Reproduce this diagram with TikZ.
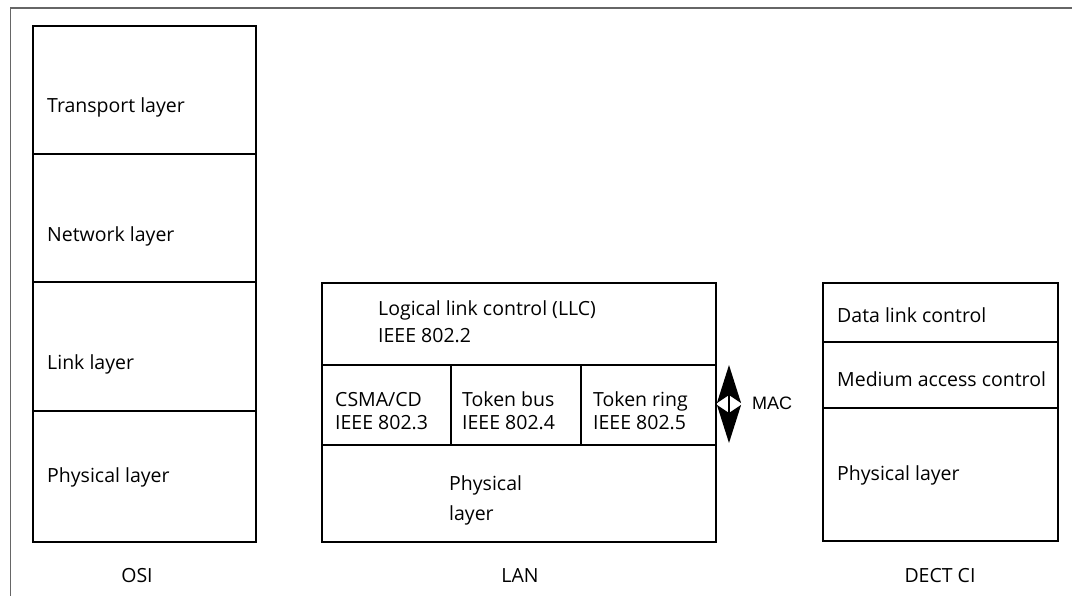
\documentclass[tikz,border=0pt]{standalone}
\usepackage{fontspec}
\setmainfont{Open Sans}
\newfontfamily\macfont{Liberation Sans}
\usetikzlibrary{arrows.meta}

\tikzset{
  cell/.style={draw=black, line width=2.8pt, anchor=north west,
               inner sep=0pt, outer sep=0pt},
  lbl/.style={anchor=west, inner sep=0pt, align=left,
              font=\fontsize{19.5}{27}\selectfont},
  caption/.style={inner sep=0pt, font=\fontsize{19.5}{22}\selectfont},
  frameline/.style={draw=black!60, line width=1.2pt},
  macarrow/.style={line width=2pt,
    {Stealth[length=38pt,width=24pt,inset=8pt]}-{Stealth[length=38pt,width=24pt,inset=8pt]}},
}

\begin{document}
\begin{tikzpicture}[x=1pt,y=-1pt]
\useasboundingbox (0,0) rectangle (1072,596);

% outer frame (top and left edges only)
\coordinate (fbl) at (10.5,596);
\coordinate (ftl) at (10.5,8);
\coordinate (ftr) at (1072,8);
\draw[frameline] (fbl) -- (ftl) -- (ftr);

% ---------------- OSI stack ----------------
\node[cell, minimum width=223pt, minimum height=128pt] (osiT) at (33,26) {};
\node[cell, minimum width=223pt, minimum height=128pt] (osiN) at (33,154) {};
\node[cell, minimum width=223pt, minimum height=129pt] (osiL) at (33,282) {};
\node[cell, minimum width=223pt, minimum height=131pt] (osiP) at (33,411) {};
\node[lbl] (tT) at (47,107) {Transport layer};
\node[lbl] (tN) at (47,236) {Network layer};
\node[lbl] (tL) at (47,364) {Link layer};
\node[lbl] (tP) at (47,477) {Physical layer};
\node[caption] (capOSI) at (137,576) {OSI};

% ---------------- LAN stack ----------------
\node[cell, minimum width=394pt, minimum height=82pt] (llc) at (322,283) {};
\node[cell, minimum width=129pt, minimum height=80pt] (csma) at (322,365) {};
\node[cell, minimum width=130pt, minimum height=80pt] (tbus) at (451,365) {};
\node[cell, minimum width=135pt, minimum height=80pt] (tring) at (581,365) {};
\node[cell, minimum width=394pt, minimum height=97pt] (lphy) at (322,445) {};
\node[lbl] (tLLC) at (378,322) {Logical link control (LLC)\\IEEE 802.2};
\node[lbl, font=\fontsize{19.5}{23}\selectfont] (tCS) at (335,411) {CSMA/CD\\IEEE 802.3};
\node[lbl, font=\fontsize{19.5}{23}\selectfont] (tTB) at (462,411) {Token bus\\IEEE 802.4};
\node[lbl, font=\fontsize{19.5}{23}\selectfont] (tTR) at (593,411) {Token ring\\IEEE 802.5};
\node[lbl, font=\fontsize{19.5}{30}\selectfont] (tLP) at (449,500) {Physical\\layer};
\node[caption] (capLAN) at (520,576) {LAN};

% MAC span marker
\coordinate (macT) at (729,365);
\coordinate (macB) at (729,443);
\draw[macarrow] (macT) -- (macB);
\node[anchor=west, inner sep=0pt, font=\macfont\fontsize{18}{20}\selectfont] (tMAC) at (752,403) {MAC};

% ---------------- DECT CI stack ----------------
\node[cell, minimum width=235pt, minimum height=59pt] (dlc) at (823,283) {};
\node[cell, minimum width=235pt, minimum height=66pt] (mac) at (823,342) {};
\node[cell, minimum width=235pt, minimum height=133pt] (dphy) at (823,408) {};
\node[lbl] (tDLC) at (837,315) {Data link control};
\node[lbl] (tMACd) at (837,379) {Medium access control};
\node[lbl] (tDP) at (837,475) {Physical layer};
\node[caption] (capDECT) at (940,576) {DECT CI};

\end{tikzpicture}
\end{document}
